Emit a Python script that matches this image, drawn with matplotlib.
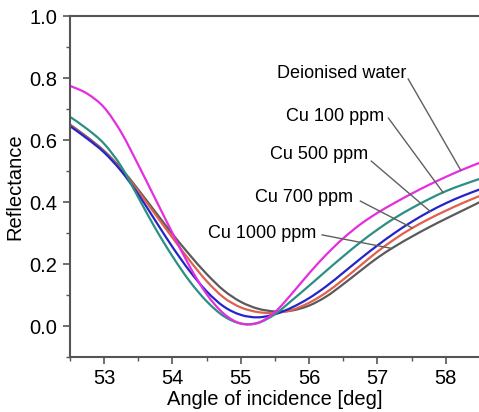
import numpy as np
import matplotlib
matplotlib.use("Agg")
import matplotlib.pyplot as plt
from matplotlib.ticker import MultipleLocator
from matplotlib.path import Path
from matplotlib.patches import PathPatch

plt.rcParams['font.family'] = ['Liberation Sans', 'DejaVu Sans']

angle = [52.5, 52.75, 53.0, 53.25, 53.5, 53.75, 54.0, 54.25, 54.5, 54.75,
         55.0, 55.25, 55.5, 55.75, 56.0, 56.25, 56.5, 56.75, 57.0, 57.25,
         57.5, 57.75, 58.0, 58.25, 58.5]

water = [0.775, 0.750, 0.705, 0.625, 0.520, 0.410, 0.300, 0.193, 0.103, 0.040,
         0.008, 0.010, 0.045, 0.105, 0.170, 0.230, 0.283, 0.328, 0.365, 0.397,
         0.427, 0.455, 0.481, 0.505, 0.527]
cu100 = [0.675, 0.636, 0.588, 0.515, 0.415, 0.315, 0.225, 0.145, 0.080, 0.032,
         0.008, 0.010, 0.038, 0.083, 0.130, 0.178, 0.225, 0.270, 0.311, 0.348,
         0.380, 0.409, 0.435, 0.456, 0.475]
cu500 = [0.645, 0.605, 0.560, 0.500, 0.425, 0.340, 0.255, 0.178, 0.112, 0.063,
         0.036, 0.028, 0.038, 0.060, 0.090, 0.128, 0.172, 0.217, 0.260, 0.300,
         0.336, 0.368, 0.396, 0.420, 0.441]
cu700 = [0.648, 0.607, 0.562, 0.505, 0.435, 0.360, 0.285, 0.212, 0.145, 0.092,
         0.060, 0.045, 0.042, 0.052, 0.075, 0.108, 0.150, 0.195, 0.240, 0.280,
         0.315, 0.345, 0.372, 0.397, 0.420]
cu1000 = [0.650, 0.610, 0.565, 0.508, 0.440, 0.368, 0.297, 0.230, 0.168, 0.115,
          0.078, 0.056, 0.047, 0.050, 0.066, 0.095, 0.135, 0.178, 0.220, 0.256,
          0.288, 0.318, 0.346, 0.373, 0.400]

labels = ["Deionised water", "Cu 100 ppm", "Cu 500 ppm", "Cu 700 ppm", "Cu 1000 ppm"]
colors = ["#e52ee0", "#2b8f84", "#2424c8", "#e0604e", "#5a5a5a"]
series = [water, cu100, cu500, cu700, cu1000]

# annotation text anchor (right end), leader start, leader end x on curve
text_pos = [(57.42, 0.816), (57.10, 0.677), (56.86, 0.552), (56.64, 0.416), (56.10, 0.30)]
line_start = [(57.45, 0.797), (57.16, 0.671), (56.91, 0.532), (56.75, 0.403), (56.19, 0.294)]
line_end_x = [58.22, 57.96, 57.77, 57.51, 57.21]


def smooth_path(xs, ys):
    """Smooth (Catmull-Rom style) line through the given points."""
    p = np.column_stack([xs, ys]).astype(float)
    n = len(p)
    verts = [p[0]]
    codes = [Path.MOVETO]
    for i in range(n - 1):
        p0 = p[i - 1] if i > 0 else p[i]
        p1 = p[i]
        p2 = p[i + 1]
        p3 = p[i + 2] if i + 2 < n else p[i + 1]
        c1 = p1 + (p2 - p0) / 6.0
        c2 = p2 - (p3 - p1) / 6.0
        verts += [c1, c2, p2]
        codes += [Path.CURVE4] * 3
    return Path(verts, codes)


fig = plt.figure(figsize=(4.79, 4.12), dpi=100)
ax = fig.add_axes([0.146, 0.1335, 0.856, 0.8275])

order = [4, 3, 2, 1, 0]
for i in order:
    patch = PathPatch(smooth_path(angle, series[i]), facecolor="none",
                      edgecolor=colors[i], lw=1.6, zorder=2 + (4 - i) * 0.1,
                      capstyle="round", joinstyle="round")
    ax.add_patch(patch)

for i in range(5):
    xe = line_end_x[i]
    ye = float(np.interp(xe, angle, series[i]))
    xs, ys = line_start[i]
    ax.plot([xs, xe], [ys, ye], color="#606060", lw=1.0, zorder=3)
    ax.text(text_pos[i][0], text_pos[i][1], labels[i], ha="right", va="center",
            fontsize=13, color="black")

ax.set_xlim(52.5, 58.5)
ax.set_ylim(-0.1, 1.0)
ax.xaxis.set_minor_locator(MultipleLocator(0.5))
ax.yaxis.set_minor_locator(MultipleLocator(0.1))
ax.set_xticks([53, 54, 55, 56, 57, 58])
ax.set_yticks([0.0, 0.2, 0.4, 0.6, 0.8, 1.0])
ax.set_yticklabels(["0.0", "0.2", "0.4", "0.6", "0.8", "1.0"])

ax.tick_params(which="major", direction="out", length=5, width=1.2, color="#555555",
               labelsize=14.5, pad=4)
ax.tick_params(which="minor", direction="out", length=3, width=1.0, color="#555555")
for s in ["left", "bottom", "top"]:
    ax.spines[s].set_color("#555555")
    ax.spines[s].set_linewidth(1.5)
ax.spines["right"].set_visible(False)

ax.set_xlabel("Angle of incidence [deg]", fontsize=14.5, labelpad=1)
ax.set_ylabel("Reflectance", fontsize=14.5, labelpad=4)

fig.savefig("out.png", dpi=100)
